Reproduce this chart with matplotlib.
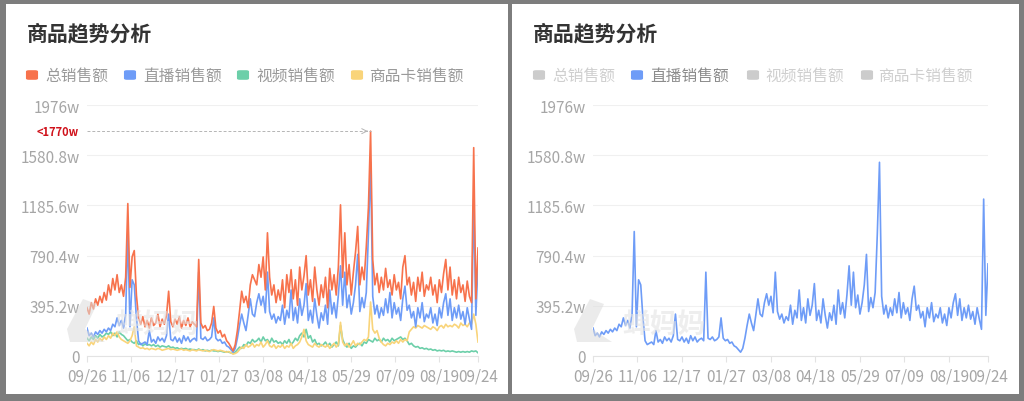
import matplotlib
matplotlib.use("Agg")
import matplotlib.pyplot as plt
import matplotlib.dates as mdates
from matplotlib.patches import Rectangle, FancyBboxPatch, Polygon
import numpy as np
import pandas as pd

plt.rcParams['font.family'] = ['Noto Sans CJK SC', 'DejaVu Sans']

# ---------------------------------------------------------------- data (unit: w = 10k)
dates = pd.date_range('2023-09-26', '2024-09-24', freq='2D')

total_sales = [
    380, 330, 420, 370, 450, 400, 470, 420, 500, 440,
    560, 480, 610, 520, 640, 500, 560, 470, 620, 1200,
    540, 780, 830, 480, 300, 250, 310, 230, 280, 220,
    300, 240, 260, 330, 230, 290, 250, 320, 510, 270,
    230, 290, 250, 310, 220, 280, 240, 300, 230, 270,
    250, 230, 760, 260, 220, 240, 200, 210, 260, 390,
    220, 180, 200, 150, 170, 120, 100, 70, 40, 90,
    200, 350, 510, 420, 470, 380, 560, 640, 600, 560,
    720, 620, 780, 520, 970, 620, 480, 560, 420, 520,
    440, 600, 380, 640, 500, 680, 450, 600, 400, 700,
    520, 630, 790, 480, 600, 430, 700, 520, 400, 560,
    460, 620, 380, 690, 520, 640, 480, 700, 1190, 620,
    970, 560, 720, 480, 660, 820, 1020, 560, 700, 600,
    860, 1170, 1770, 760, 560, 650, 500, 620, 520, 690,
    540, 600, 480, 640, 520, 580, 450, 700, 790, 560,
    620, 480, 580, 430, 620, 510, 660, 470, 560, 520,
    620, 480, 560, 420, 600, 500, 650, 760, 520, 700,
    480, 600, 450, 620, 500, 560, 430, 590, 470, 420,
    1640, 450, 850,
]

live_sales = [
    220, 160, 180, 150, 190, 170, 200, 180, 210, 190,
    220, 200, 250, 230, 300, 240, 280, 220, 330, 980,
    230, 600, 560, 300, 120, 90, 100, 110, 90, 200,
    110, 130, 100, 150, 120, 140, 110, 160, 330, 130,
    120, 150, 110, 140, 100, 160, 120, 150, 110, 130,
    140, 120, 660, 140, 130, 150, 120, 130, 150, 300,
    140, 120, 130, 100, 110, 80, 70, 50, 30, 60,
    140, 240, 330, 260, 200, 320, 450, 330, 310, 420,
    490, 400, 470, 340, 660, 350, 290, 330, 260, 310,
    280, 400, 250, 360, 300, 520, 280, 380, 260, 450,
    320, 400, 570, 280, 360, 260, 450, 320, 220, 340,
    280, 400, 250, 520, 330, 420, 300, 480, 710, 400,
    660, 380, 480, 330, 420, 560, 800, 350, 460, 380,
    500, 960, 1525, 470, 330, 400, 300, 380, 320, 450,
    340, 500, 300, 420, 330, 380, 280, 450, 550, 360,
    400, 300, 350, 230, 380, 300, 420, 270, 330, 300,
    380, 260, 330, 240, 380, 300, 420, 490, 320, 450,
    280, 380, 300, 400, 290, 350, 250, 380, 290, 210,
    1235, 320, 725,
]

video_sales = [
    140, 120, 150, 130, 160, 140, 170, 150, 160, 180,
    170, 190, 160, 180, 150, 190, 170, 160, 140, 120,
    130, 110, 100, 120, 90, 100, 80, 95, 85, 90,
    80, 90, 75, 85, 70, 80, 75, 70, 80, 65,
    70, 60, 65, 55, 60, 55, 60, 50, 55, 50,
    50, 45, 55, 45, 50, 40, 45, 40, 45, 40,
    40, 35, 40, 35, 30, 35, 30, 25, 20, 30,
    50, 70, 60, 90, 80, 110, 100, 130, 110, 120,
    140, 110, 150, 120, 130, 100, 140, 110, 120, 100,
    110, 90, 120, 100, 130, 90, 110, 140, 120, 160,
    180, 150, 210, 140, 160, 110, 130, 90, 100, 80,
    90, 110, 80, 100, 70, 90, 110, 80, 240, 130,
    90, 70, 100, 60, 80, 70, 90, 100, 80, 110,
    100, 130, 120, 110, 140, 120, 130, 110, 140, 120,
    130, 110, 140, 120, 130, 140, 150, 130, 140, 120,
    90, 100, 80, 70, 75, 60, 65, 55, 60, 50,
    55, 45, 50, 40, 45, 40, 45, 35, 40, 35,
    40, 35, 30, 35, 30, 35, 30, 35, 30, 40,
    35, 40, 25,
]

card_sales = [
    100, 80, 110, 90, 130, 110, 140, 120, 150, 130,
    160, 140, 180, 160, 190, 150, 130, 120, 110, 100,
    120, 160, 230, 80, 70, 60, 65, 55, 60, 50,
    60, 55, 50, 60, 55, 45, 50, 55, 60, 50,
    55, 50, 45, 50, 55, 45, 50, 45, 40, 50,
    45, 40, 50, 45, 40, 45, 40, 35, 45, 50,
    45, 40, 45, 40, 35, 30, 35, 25, 15, 20,
    30, 50, 70, 60, 90, 70, 80, 100, 70, 90,
    80, 110, 70, 90, 120, 80, 70, 90, 60, 80,
    70, 90, 60, 80, 70, 100, 60, 80, 90, 110,
    150, 210, 120, 90, 80, 70, 100, 80, 70, 90,
    80, 70, 90, 60, 80, 100, 70, 90, 265, 110,
    80, 100, 70, 90, 120, 80, 100, 90, 110, 130,
    120, 150, 425, 210, 180, 200, 140, 110, 90, 80,
    100, 90, 110, 100, 120, 100, 130, 110, 130, 120,
    190, 210, 230, 220, 240, 230, 220, 240, 230, 220,
    210, 230, 220, 200, 230, 240, 220, 250, 230, 240,
    230, 250, 240, 220, 260, 240, 250, 230, 260, 250,
    330, 250, 110,
]

series_names = ['总销售额', '直播销售额', '视频销售额', '商品卡销售额']
series_colors = ['#F7724C', '#6E9CF7', '#6CCFA9', '#F9D47A']
y_ticks = [0, 395.2, 790.4, 1185.6, 1580.8, 1976]
x_ticks = ['2023-09-26', '2023-11-06', '2023-12-17', '2024-01-27', '2024-03-08',
           '2024-04-18', '2024-05-29', '2024-07-09', '2024-08-19', '2024-09-24']

W, H = 1024, 402
fig = plt.figure(figsize=(W / 100, H / 100), dpi=100, facecolor='#7d7d7d')


def fx(px):
    return px / W


def fy(py):
    return (H - py) / H


# white cards
for x0, x1 in [(6, 508), (512, 1019)]:
    fig.add_artist(Rectangle((fx(x0), fy(395)), fx(x1 - x0), (395 - 5) / H,
                             transform=fig.transFigure, facecolor='white',
                             edgecolor='none', zorder=0))


def tick_label(v):
    if v == 0:
        return '0'
    return f'{v:g}w'


def style_axes(ax):
    ax.set_facecolor('none')
    ax.set_ylim(0, 1976)
    ax.set_xlim(dates[0], dates[-1])
    ax.set_yticks(y_ticks)
    ax.set_yticklabels([tick_label(v) for v in y_ticks])
    ax.set_xticks(pd.to_datetime(x_ticks))
    ax.xaxis.set_major_formatter(mdates.DateFormatter('%m/%d'))
    ax.grid(axis='y', color='#f0f0f0', lw=0.8)
    ax.set_axisbelow(True)
    for s in ['top', 'right', 'left']:
        ax.spines[s].set_visible(False)
    ax.spines['bottom'].set_color('#e3e3e3')
    ax.tick_params(axis='y', length=0, labelsize=11, labelcolor='#a6a6a6', pad=5)
    ax.tick_params(axis='x', length=4, color='#e3e3e3', labelsize=11,
                   labelcolor='#a6a6a6', pad=4)


def watermark(x0):
    fig.add_artist(Polygon([(fx(x0 + 18), fy(300)), (fx(x0 + 32), fy(305)),
                            (fx(x0 + 20), fy(330)), (fx(x0 + 40), fy(343)),
                            (fx(x0 + 5), fy(343)), (fx(x0 + 2), fy(330))],
                           closed=True, transform=fig.transFigure,
                           facecolor='#dcdcdc', edgecolor='none', alpha=0.55, zorder=1))
    fig.text(fx(x0 + 50), fy(325), '蝉妈妈', fontsize=20, fontweight='bold',
             color='#e4e4e4', alpha=0.6, va='center', ha='left', zorder=1)


def legend(x_squares, x_texts, active):
    for i, name in enumerate(series_names):
        on = active is None or active == i
        sq_col = series_colors[i] if on else '#cccccc'
        fig.add_artist(FancyBboxPatch((fx(x_squares[i] - 4), fy(80)), fx(8), 8 / H,
                                      boxstyle='round,pad=0.002,rounding_size=0.003',
                                      transform=fig.transFigure, facecolor=sq_col,
                                      edgecolor='none', zorder=3))
        if active is None:
            tc = '#9a9a9a'
        else:
            tc = '#8c8c8c' if on else '#cfcfcf'
        fig.text(fx(x_texts[i]), fy(76), name, fontsize=11.3, color=tc,
                 va='center', ha='left', zorder=3)


# ---------------------------------------------------------------- left card
fig.text(fx(27), fy(34), '商品趋势分析', fontsize=15, fontweight='bold',
         color='#333333', va='center', ha='left')
legend([32, 130, 243, 357], [45, 143, 256, 369], None)
watermark(65)

ax1 = fig.add_axes([fx(87), fy(357), fx(478 - 87), (357 - 106) / H])
style_axes(ax1)
ax1.plot(dates, video_sales, color=series_colors[2], lw=1.2, zorder=2)
ax1.plot(dates, card_sales, color=series_colors[3], lw=1.2, zorder=2.5)
ax1.plot(dates, live_sales, color=series_colors[1], lw=1.2, zorder=3)
ax1.plot(dates, total_sales, color=series_colors[0], lw=1.2, zorder=4)

# max marker
imax = int(np.argmax(total_sales))
vmax = total_sales[imax]
ax1.plot([dates[0], dates[imax]], [vmax, vmax], color='#b5b5b5', lw=0.7,
         ls=(0, (3, 2)), zorder=5, clip_on=False)
ax1.annotate('', xy=(dates[imax], vmax), xytext=(dates[imax - 3], vmax),
             arrowprops=dict(arrowstyle='->', color='#b5b5b5', lw=0.7,
                             mutation_scale=9), zorder=5)
ax1.text(-0.022, vmax, f'<{vmax}w', transform=ax1.get_yaxis_transform(),
         ha='right', va='center', fontsize=8, fontweight='bold', color='#d0121b')

# ---------------------------------------------------------------- right card
fig.text(fx(533), fy(34), '商品趋势分析', fontsize=15, fontweight='bold',
         color='#333333', va='center', ha='left')
legend([539, 637, 753, 867], [552, 650, 765, 878], 1)
watermark(572)

ax2 = fig.add_axes([fx(593), fy(357), fx(988 - 593), (357 - 106) / H])
style_axes(ax2)
ax2.plot(dates, live_sales, color=series_colors[1], lw=1.2, zorder=3)

fig.savefig('out.png', dpi=100, facecolor=fig.get_facecolor())
